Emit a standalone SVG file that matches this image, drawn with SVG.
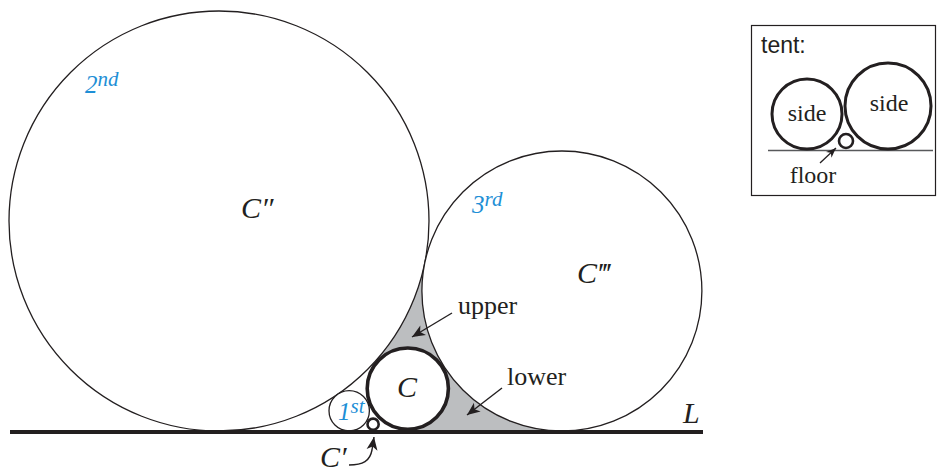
<svg xmlns="http://www.w3.org/2000/svg" width="937" height="474" viewBox="0 0 937 474">
<style>
.thin{fill:#fff;stroke:#231f20;stroke-width:1.3}
.thick{fill:#fff;stroke:#231f20;stroke-width:3.6}
.gap{fill:#bcbec0;stroke:none}
.lbl{font-family:"Liberation Serif",serif;fill:#231f20}
.it{font-family:"Liberation Serif",serif;font-style:italic;fill:#231f20;font-size:30px}
.ord{font-family:"Liberation Serif",serif;font-style:italic;fill:#1e8fd6;font-size:25px}
.arr{fill:none;stroke:#231f20;stroke-width:1.4}
</style>
<defs>
<marker id="ah" markerUnits="userSpaceOnUse" viewBox="-14 -6 15 12" markerWidth="15" markerHeight="12" refX="0" refY="0" orient="auto">
<path d="M0,0 L-13,-5.5 L-9.5,0 L-13,5.5 Z" fill="#231f20"/>
</marker>
<marker id="ahs" markerUnits="userSpaceOnUse" viewBox="-11 -5 12 10" markerWidth="12" markerHeight="10" refX="0" refY="0" orient="auto">
<path d="M0,0 L-10,-4 L-7,0 L-10,4 Z" fill="#231f20"/>
</marker>
</defs>
<g id="gaps">
<polygon class="gap" points="219,221 561.9,291 407.8,388.6"/>
<polygon class="gap" points="407.8,388.6 561.9,291 561.9,431 407.8,431"/>
</g>
<g id="c2"><circle class="thin" cx="219" cy="221" r="210"/></g>
<g id="c3"><circle class="thin" cx="561.9" cy="291" r="140"/></g>
<g id="c"><circle class="thick" cx="407.8" cy="388.6" r="40.6"/></g>
<g id="c1"><circle class="thin" cx="349.2" cy="410.8" r="20.2"/></g>
<g id="cp"><circle fill="#fff" stroke="#231f20" stroke-width="2.6" cx="373.1" cy="424.2" r="5.6"/></g>
<g id="lineL"><line x1="10" y1="432" x2="703" y2="432" stroke="#231f20" stroke-width="4"/></g>
<g id="tent">
<rect x="751.5" y="25.5" width="184" height="170" fill="#fff" stroke="#231f20" stroke-width="1.2"/>
<text x="761" y="53" font-family="'Liberation Sans',sans-serif" font-size="23" fill="#231f20">tent:</text>
<line x1="768" y1="150.5" x2="933" y2="150.5" stroke="#58595b" stroke-width="1.6"/>
<circle cx="807" cy="114" r="35" fill="none" stroke="#231f20" stroke-width="3"/>
<circle cx="888" cy="106" r="43" fill="none" stroke="#231f20" stroke-width="3"/>
<circle cx="846" cy="141" r="7" fill="#fff" stroke="#231f20" stroke-width="2.6"/>
<text class="lbl" x="807" y="121" font-size="24" text-anchor="middle">side</text>
<text class="lbl" x="889" y="111" font-size="24" text-anchor="middle">side</text>
<text class="lbl" x="813" y="183" font-size="24" text-anchor="middle">floor</text>
</g>
<g id="connectors">
<line class="arr" x1="452" y1="313" x2="412" y2="337" marker-end="url(#ah)"/>
<line class="arr" x1="502" y1="388" x2="467" y2="415" marker-end="url(#ah)"/>
<path class="arr" d="M349,465 C363,465 370,461 372,450 L374,437" marker-end="url(#ah)"/>
<line x1="820" y1="163" x2="836" y2="148" stroke="#231f20" stroke-width="1.3" marker-end="url(#ahs)"/>
</g>
<g id="labels">
<text class="ord" x="85" y="93">2<tspan font-size="21" dy="-7">nd</tspan></text>
<text class="ord" x="472" y="213">3<tspan font-size="21" dy="-7">rd</tspan></text>
<text class="ord" x="338" y="420">1<tspan font-size="21" dy="-7">st</tspan></text>
<text class="it" x="241" y="218">C″</text>
<text class="it" x="577" y="283">C‴</text>
<text class="it" x="397" y="397">C</text>
<text class="it" x="320" y="467" font-size="27">C′</text>
<text class="it" x="683" y="423">L</text>
<text class="lbl" x="458" y="314" font-size="26">upper</text>
<text class="lbl" x="507" y="385" font-size="26">lower</text>
</g>
</svg>
